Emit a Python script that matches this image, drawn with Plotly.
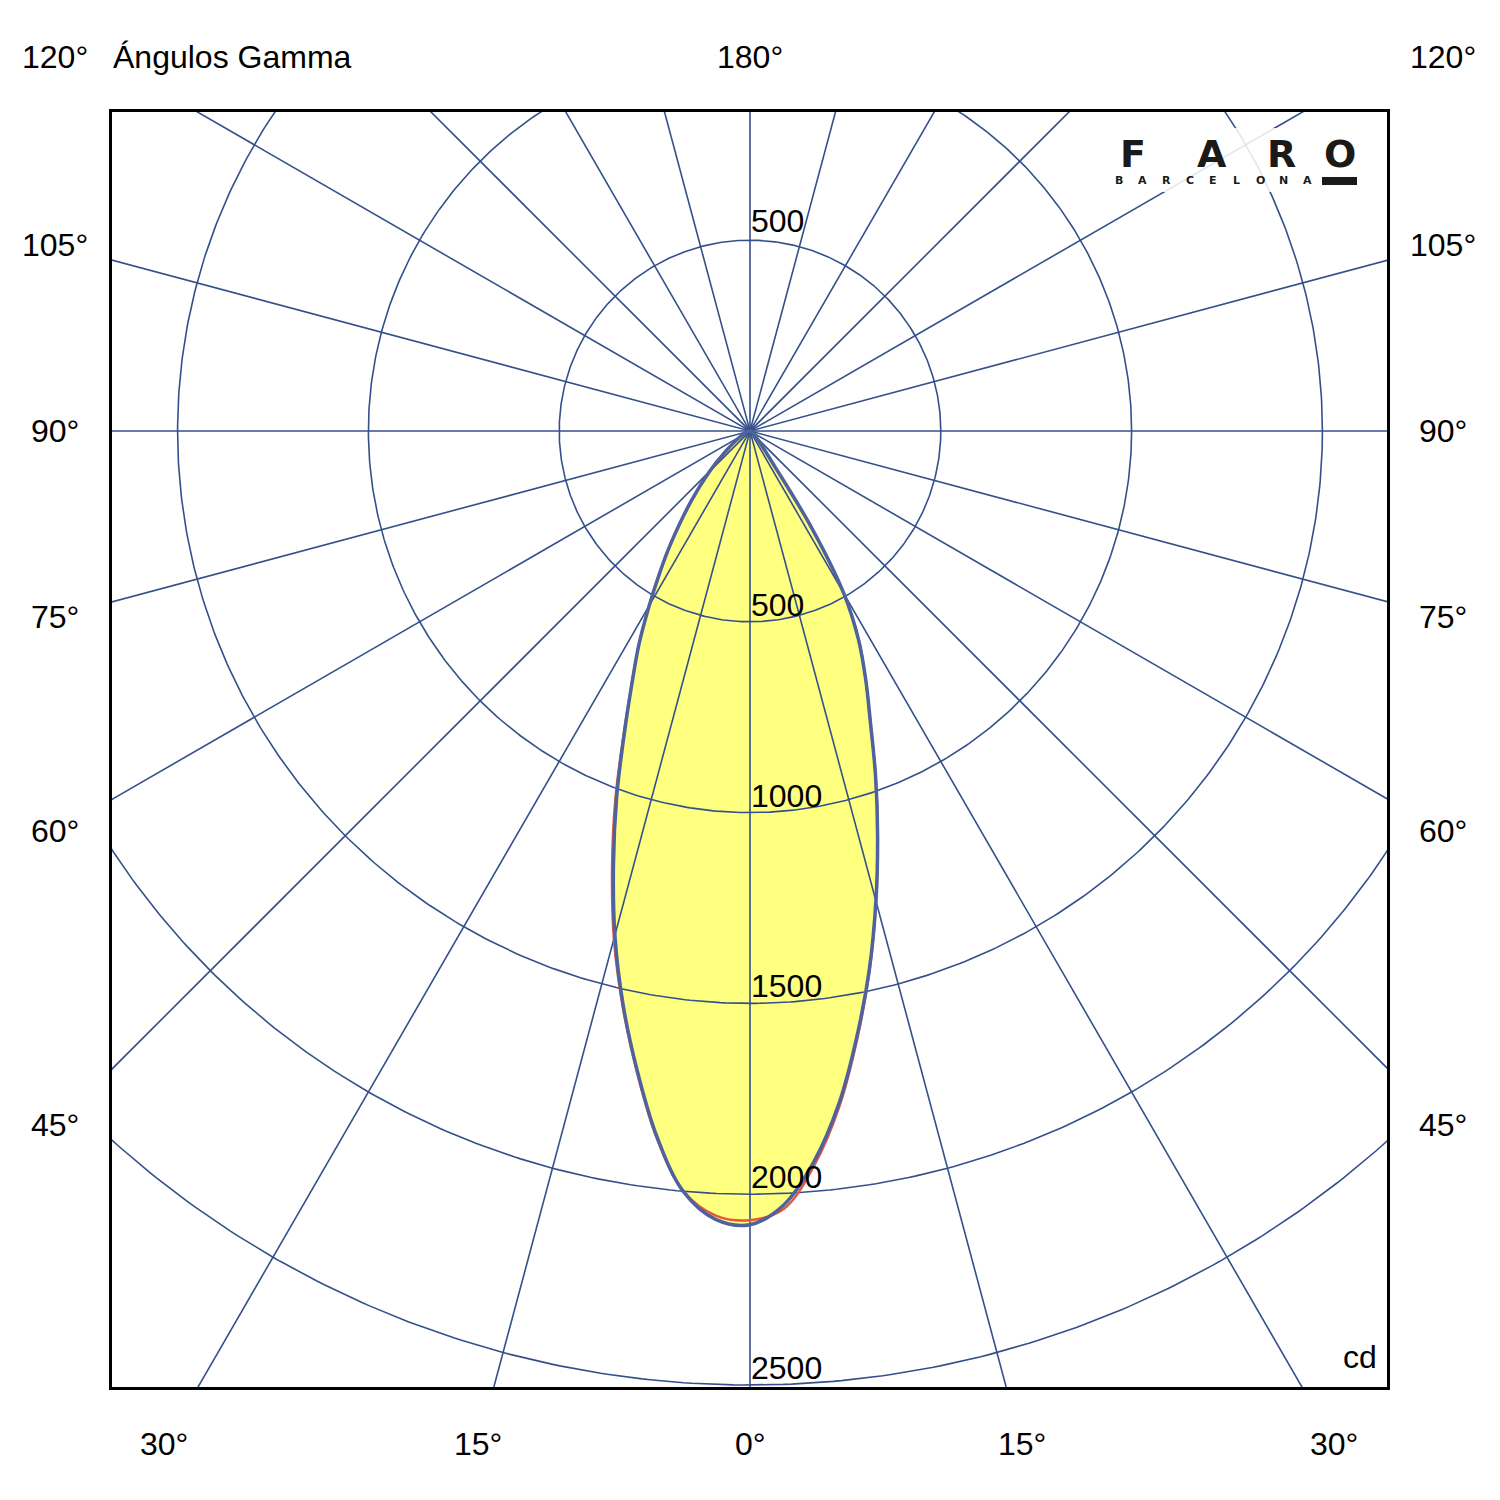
import numpy as np
import plotly.graph_objects as go

# gamma angles (deg) and intensities (cd)
gamma = [0, 2.5, 5, 7.5, 10, 12.5, 15, 17.5, 20, 22.5, 25, 27.5, 30, 32.5, 35, 40, 45, 50, 60, 70, 80, 90]
c0 = [2080, 2030, 1922, 1780, 1612, 1445, 1275, 1112, 962, 824, 717, 615, 492, 300, 110, 40, 20, 12, 6, 3, 1, 0]
c180 = [2083, 2068, 2001, 1866, 1702, 1538, 1368, 1190, 1022, 862, 733, 630, 528, 440, 365, 240, 150, 85, 30, 12, 4, 0]
c90 = [2068, 2040, 1932, 1788, 1618, 1448, 1277, 1113, 962, 824, 717, 617, 494, 303, 113, 42, 20, 12, 6, 3, 1, 0]
c270 = [2068, 2058, 2000, 1870, 1706, 1543, 1378, 1202, 1033, 868, 735, 630, 528, 440, 365, 240, 150, 85, 30, 12, 4, 0]

circle_values = [500, 1000, 1500, 2000, 2500]
ray_angles = list(range(0, 180, 15))

side_labels = ["120°", "105°", "90°", "75°", "60°", "45°"]
bottom_labels = ["30°", "15°", "0°", "15°", "30°"]

GRID = "#34508C"
FONT = "Liberation Sans, Arial, sans-serif"

# pixel scale: 2500 cd circle = 954 px
S = 954 / 2500


def outline(right, left):
    g = np.radians(gamma)
    r = np.array(right, float)
    l = np.array(left, float)
    x = np.concatenate([(r * np.sin(g))[::-1], -(l * np.sin(g))[1:]])
    y = np.concatenate([(-r * np.cos(g))[::-1], (-l * np.cos(g))[1:]])
    return x, y


def px(xp):
    return (xp - 112) / 1275


def py(yp):
    return (1387 - yp) / 1275


fig = go.Figure()

# yellow fill
bx, by = outline(c0, c180)
fig.add_trace(go.Scatter(x=bx, y=by, mode="lines", fill="toself", fillcolor="#FFFF80",
                         line=dict(width=0, shape="spline", smoothing=1), hoverinfo="skip"))

# polar grid
t = np.linspace(0, 2 * np.pi, 721)
for v in circle_values:
    fig.add_trace(go.Scatter(x=v * np.cos(t), y=v * np.sin(t), mode="lines",
                             line=dict(color=GRID, width=1.6), hoverinfo="skip"))
for a in ray_angles:
    ar = np.radians(a)
    L = 6000
    fig.add_trace(go.Scatter(x=[-L * np.sin(ar), L * np.sin(ar)], y=[L * np.cos(ar), -L * np.cos(ar)],
                             mode="lines", line=dict(color=GRID, width=1.6), hoverinfo="skip"))

# curves
rx, ry = outline(c90, c270)
fig.add_trace(go.Scatter(x=rx, y=ry, mode="lines",
                         line=dict(color="#E8553A", width=2.5, shape="spline", smoothing=1)))
fig.add_trace(go.Scatter(x=bx, y=by, mode="lines",
                         line=dict(color="#4E62A0", width=3.5, shape="spline", smoothing=1)))

ann = []
lab_font = dict(size=32, color="black", family=FONT)
# circle labels
for v in circle_values:
    ann.append(dict(x=0, y=-v, xref="x", yref="y", text=str(v), showarrow=False,
                    xanchor="left", yanchor="middle", xshift=-1, yshift=17, font=lab_font))
ann.append(dict(x=0, y=circle_values[0], xref="x", yref="y", text=str(circle_values[0]), showarrow=False,
                xanchor="left", yanchor="middle", xshift=-1, yshift=19, font=lab_font))

for txt, yp in zip(side_labels, [57, 245, 431, 617, 831, 1125]):
    ann.append(dict(x=px(55), y=py(yp), xref="paper", yref="paper", text=txt, showarrow=False,
                    xanchor="center", yanchor="middle", font=lab_font))
    ann.append(dict(x=px(1443), y=py(yp), xref="paper", yref="paper", text=txt, showarrow=False,
                    xanchor="center", yanchor="middle", font=lab_font))
for txt, xp in zip(bottom_labels, [164, 478, 750, 1022, 1334]):
    ann.append(dict(x=px(xp), y=py(1444), xref="paper", yref="paper", text=txt, showarrow=False,
                    xanchor="center", yanchor="middle", font=lab_font))
ann.append(dict(x=px(750), y=py(57), xref="paper", yref="paper", text="180°", showarrow=False,
                xanchor="center", yanchor="middle", font=lab_font))
ann.append(dict(x=px(111), y=py(57), xref="paper", yref="paper", text="Ángulos Gamma", showarrow=False,
                xanchor="left", yanchor="middle", font=lab_font))
ann.append(dict(x=px(1379), y=py(1357), xref="paper", yref="paper", text="cd", showarrow=False,
                xanchor="right", yanchor="middle", font=lab_font))

# FARO logo
logo_font = dict(size=38, color="#1A1A1A", family="DejaVu Sans", weight="bold")
for ch, xp in zip("FARO", [1133, 1212, 1281, 1340]):
    ann.append(dict(x=px(xp), y=py(154), xref="paper", yref="paper", text=ch, showarrow=False,
                    xanchor="center", yanchor="middle", font=logo_font))
small_font = dict(size=11, color="#1A1A1A", family="DejaVu Sans", weight="bold")
for i, ch in enumerate("BARCELONA"):
    ann.append(dict(x=px(1119 + i * 23.5), y=py(181), xref="paper", yref="paper", text=ch, showarrow=False,
                    xanchor="center", yanchor="middle", font=small_font))

shapes = [
    dict(type="rect", xref="paper", yref="paper", x0=px(1108), x1=px(1362), y0=py(192), y1=py(128),
         fillcolor="white", opacity=0.85, line=dict(width=0), layer="above"),
    dict(type="rect", xref="paper", yref="paper", x0=px(1322), x1=px(1357), y0=py(185), y1=py(177),
         fillcolor="#1A1A1A", line=dict(width=0), layer="above"),
]

axis = dict(showgrid=False, zeroline=False, showticklabels=False, ticks="",
            showline=True, mirror=True, linecolor="black", linewidth=2.5)
# the page adds an 8 px body margin, so the figure is 1484 px and margins are 8 px smaller
fig.update_layout(
    width=1484, height=1484,
    margin=dict(l=104, r=105, t=104, b=105),
    paper_bgcolor="white", plot_bgcolor="white",
    showlegend=False,
    xaxis=dict(range=[-(750 - 112) / S, (1387 - 750) / S], **axis),
    yaxis=dict(range=[-(1387 - 431) / S, (431 - 112) / S], **axis),
    annotations=ann,
    shapes=shapes,
)

fig.write_html("out.html")
